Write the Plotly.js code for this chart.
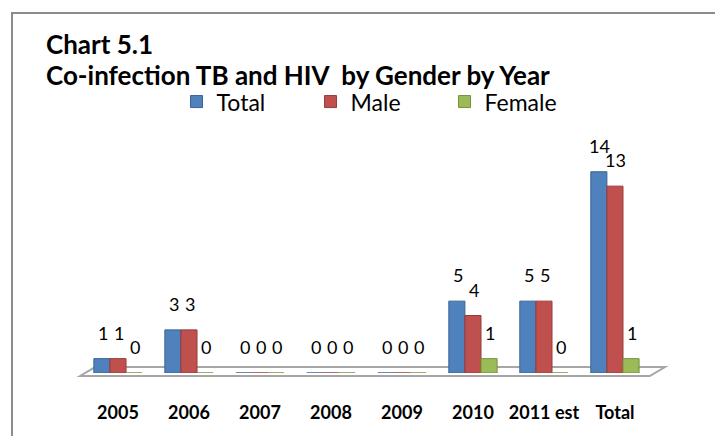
<!DOCTYPE html>
<html>
<head>
<meta charset="utf-8">
<script src="https://cdn.plot.ly/plotly-3.0.1.min.js"></script>
<style>
  html, body { margin: 0; padding: 0; background: #ffffff; overflow: hidden; }
  #frame { position: absolute; left: 11px; top: 12px; width: 760px; height: 480px; border: 2px solid #8c8c8c; box-sizing: border-box; }
  #chart { position: absolute; left: 0; top: 0; width: 715px; height: 436px; }
</style>
</head>
<body>
<div id="frame"></div>
<div id="chart"></div>
<script>
const categories = ["2005", "2006", "2007", "2008", "2009", "2010", "2011 est", "Total"];
const totalValues = [1, 3, 0, 0, 0, 5, 5, 14];
const maleValues = [1, 3, 0, 0, 0, 4, 5, 13];
const femaleValues = [0, 0, 0, 0, 0, 1, 0, 1];
const seriesNames = ["Total", "Male", "Female"];

const fontFam = "Lato, 'Open Sans', sans-serif";
const colors = ["#4F81BD", "#C0504D", "#9BBB59"];
const edges = ["#3A6496", "#943C3A", "#76923C"];
const series = [totalValues, maleValues, femaleValues];

const W = 715, H = 436;
const M = { l: 80, r: 50, t: 143, b: 63 };
const xRange = [-0.535, 7.705];
const bargap = 0.32;

const traces = series.map((vals, i) => ({
  type: "bar",
  name: seriesNames[i],
  x: categories,
  y: vals,
  marker: { color: colors[i], line: { color: edges[i], width: 1 } },
  cliponaxis: false,
  hoverinfo: "x+y+name"
}));

// value labels placed above each bar, derived from the data arrays
const plotW = W - M.l - M.r;
const pxPerCat = plotW / (xRange[1] - xRange[0]);
const barPx = pxPerCat * (1 - bargap) / series.length;
const labelAnn = [];
series.forEach((vals, i) => {
  vals.forEach((v, j) => {
    labelAnn.push({
      x: j, y: v, xref: "x", yref: "y",
      text: String(v), showarrow: false,
      xanchor: "center", yanchor: "bottom",
      xshift: (i - (series.length - 1) / 2) * barPx + 1,
      yshift: 13,
      font: { family: fontFam, size: 18, color: "#000000" }
    });
  });
});

const layout = {
  width: W,
  height: H,
  margin: M,
  paper_bgcolor: "rgba(0,0,0,0)",
  plot_bgcolor: "rgba(0,0,0,0)",
  barmode: "group",
  bargap: bargap,
  bargroupgap: 0,
  showlegend: true,
  legend: {
    orientation: "h",
    x: 0.165, xanchor: "left",
    y: 1.18, yanchor: "middle",
    font: { family: fontFam, size: 23, color: "#000000" },
    itemwidth: 30,
    entrywidth: 89,
    entrywidthmode: "pixels",
    bgcolor: "rgba(0,0,0,0)"
  },
  xaxis: {
    type: "category",
    range: xRange,
    showgrid: false,
    zeroline: false,
    showline: false,
    ticks: "outside",
    ticklen: 23,
    tickcolor: "rgba(0,0,0,0)",
    tickfont: { family: fontFam, size: 18, color: "#000000", weight: "bold" }
  },
  yaxis: {
    range: [0, 16],
    showgrid: false,
    zeroline: false,
    showline: false,
    showticklabels: false,
    ticks: ""
  },
  shapes: [
    {
      type: "path",
      xref: "paper", yref: "paper",
      path: "M 0 -0.013 L 0.026 0.026 L 1.0 0.026 L 0.974 -0.013 Z",
      line: { color: "#a6a6a6", width: 2 },
      fillcolor: "#ffffff",
      layer: "below"
    }
  ],
  annotations: [
    {
      text: "Chart 5.1",
      xref: "paper", yref: "paper",
      x: -0.062, y: 1.43, xanchor: "left", yanchor: "middle",
      showarrow: false,
      font: { family: fontFam, size: 26, color: "#000000", weight: "bold" }
    },
    {
      text: "Co-infection TB and HIV  by Gender by Year",
      xref: "paper", yref: "paper",
      x: -0.062, y: 1.297, xanchor: "left", yanchor: "middle",
      showarrow: false,
      font: { family: fontFam, size: 26, color: "#000000", weight: "bold" }
    }
  ].concat(labelAnn)
};

Plotly.newPlot("chart", traces, layout, { displayModeBar: false, staticPlot: true });
</script>
</body>
</html>
